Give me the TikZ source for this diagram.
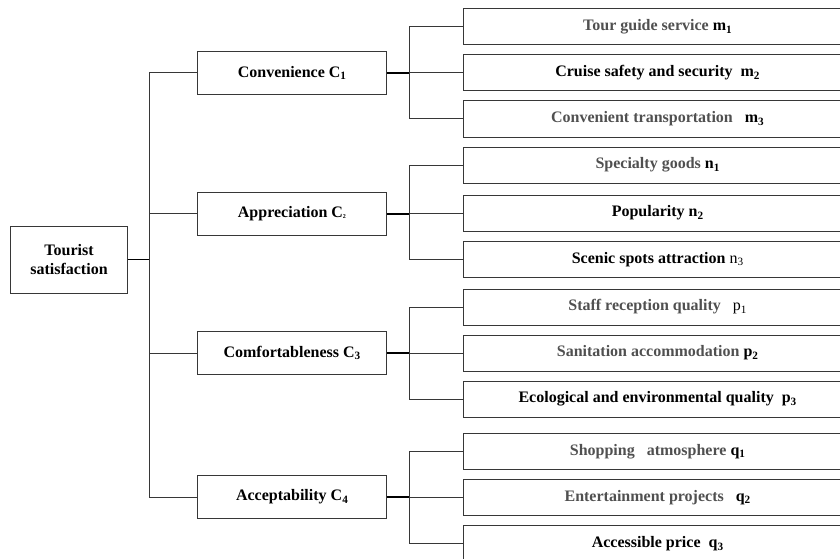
\documentclass[tikz,border=0pt]{standalone}
\usepackage{fontspec}
\setmainfont{Liberation Serif}
\usepackage{xcolor}
\usepackage{tikz}
\usetikzlibrary{positioning}
\definecolor{boxgray}{RGB}{55,55,55}
\definecolor{txtgray}{RGB}{80,80,80}

\tikzset{
  rootbox/.style={rectangle, draw=boxgray, line width=1pt, minimum width=116.6pt, minimum height=67pt, inner sep=0pt, align=center, font=\fontsize{16}{19}\selectfont\bfseries},
  midbox/.style={rectangle, draw=boxgray, line width=1pt, minimum width=189.5pt, minimum height=43pt, inner sep=0pt, font=\fontsize{16}{19}\selectfont\bfseries},
  leafbox/.style={rectangle, draw=boxgray, line width=1pt, anchor=west, minimum width=389pt, minimum height=36pt, inner sep=0pt, font=\fontsize{16}{19}\selectfont\bfseries},
  link/.style={draw=boxgray, line width=1pt},
  stub/.style={draw=black, line width=1.8pt}
}

\begin{document}
\begin{tikzpicture}[x=1pt, y=-1pt]
  \useasboundingbox (0,0) rectangle (840,559);
  \clip (0,0) rectangle (840,559);

  % goal
  \node[rootbox] (goal) at (69,259.5) {Tourist\\satisfaction};

  % criteria
  \node[midbox] (conv) at (292.2,73) {Convenience C\textsubscript{1}};
  \node[midbox] (appr) at (292.2,213.7) {Appreciation C{\fontsize{9}{9}\selectfont\textsubscript{2}}};
  \node[midbox] (comf) at (292.2,353) {Comfortableness C\textsubscript{3}};
  \node[midbox] (acce) at (292.2,497) {Acceptability C\textsubscript{4}};

  % indicators
  \node[leafbox] (m1) at (462.7,27) {\textcolor{txtgray}{Tour guide service} m\textsubscript{1}};
  \node[leafbox] (m2) at (462.7,73) {Cruise safety and security\ \ m\textsubscript{2}};
  \node[leafbox] (m3) at (462.7,119) {\textcolor{txtgray}{Convenient transportation}\ \ \ m\textsubscript{3}};
  \node[leafbox] (n1) at (462.7,165) {\textcolor{txtgray}{Specialty goods} n\textsubscript{1}};
  \node[leafbox] (n2) at (462.7,213) {Popularity n\textsubscript{2}};
  \node[leafbox] (n3) at (462.7,259.2) {Scenic spots attraction \textmd{n\textsubscript{3}}};
  \node[leafbox] (p1) at (462.7,307) {\textcolor{txtgray}{Staff reception quality}\ \ \ \textmd{p\textsubscript{1}}};
  \node[leafbox] (p2) at (462.7,353) {\textcolor{txtgray}{Sanitation accommodation} p\textsubscript{2}};
  \node[leafbox] (p3) at (462.7,399) {Ecological and environmental quality\ \ p\textsubscript{3}};
  \node[leafbox] (q1) at (462.7,451.3) {\textcolor{txtgray}{Shopping\ \ \ atmosphere} q\textsubscript{1}};
  \node[leafbox] (q2) at (462.7,497.5) {\textcolor{txtgray}{Entertainment projects}\ \ \ q\textsubscript{2}};
  \node[leafbox] (q3) at (462.7,543.7) {Accessible price\ \ q\textsubscript{3}};

  % trunk
  \coordinate (trunk) at (149.5,259.5);
  \draw[stub] (goal.east) -- (trunk);
  \draw[link] (conv.west) -| (trunk) |- (acce.west);
  \draw[link] (appr.west) -- (appr.west -| trunk);
  \draw[link] (comf.west) -- (comf.west -| trunk);

  % branches
  \foreach \c/\a/\b/\d in {conv/m1/m2/m3, appr/n1/n2/n3, comf/p1/p2/p3, acce/q1/q2/q3} {
    \coordinate (br\c) at ([xshift=21.7pt]\c.east);
    \draw[stub] (\c.east) -- (br\c);
    \draw[link] (\a.west) -| (br\c) |- (\d.west);
    \draw[link] (\b.west) -- (\b.west -| br\c);
  }
\end{tikzpicture}
\end{document}
